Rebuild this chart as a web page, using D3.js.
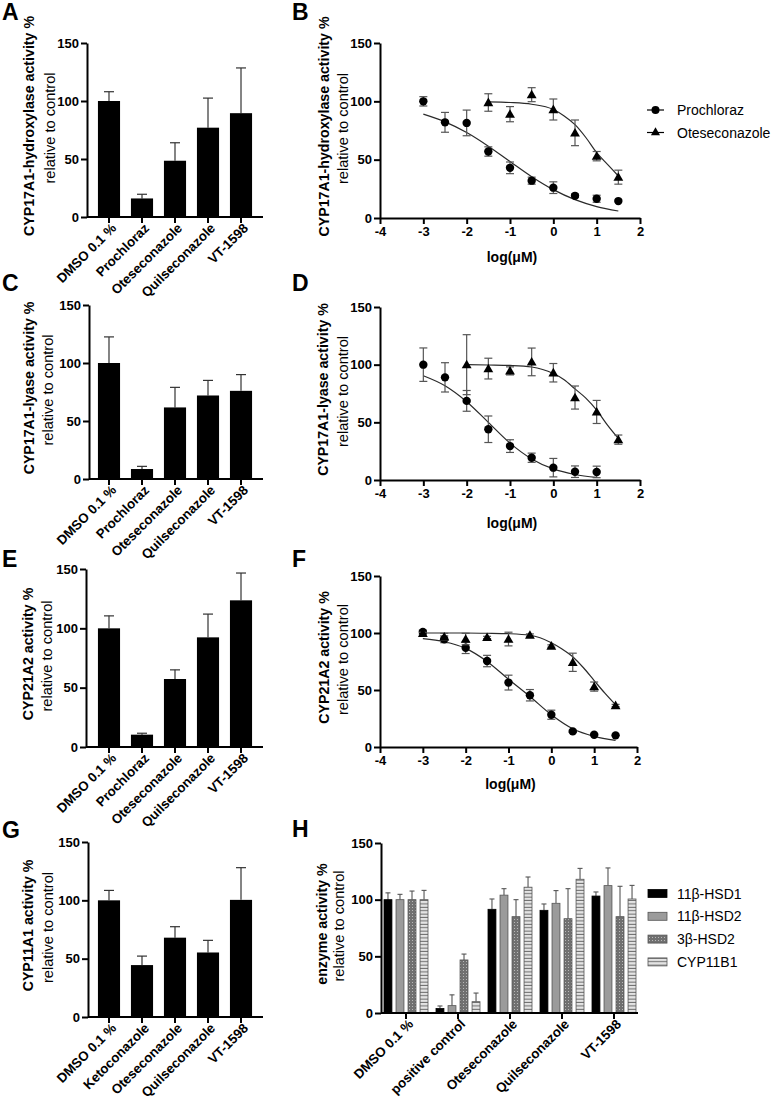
<!DOCTYPE html>
<html><head><meta charset="utf-8">
<script src="https://cdn.jsdelivr.net/npm/d3@7"></script>
<style>body{margin:0;background:#fff} svg{display:block} text{font-family:"Liberation Sans",Arial,sans-serif}</style>
</head><body><svg id="c" width="775" height="1105"></svg>
<script>
// ---------- data ----------
const barCats = ["DMSO 0.1 %","Prochloraz","Oteseconazole","Quilseconazole","VT-1598"];
const barCatsG = ["DMSO 0.1 %","Ketoconazole","Oteseconazole","Quilseconazole","VT-1598"];
const hydroxylaseMean = [100,16,48.5,77,89.5];
const hydroxylaseSD   = [8,3.6,15.5,25.5,39];
const lyaseMean = [100,8.6,61.7,72,76];
const lyaseSD   = [22.5,2.3,17.3,13,14];
const cyp21Mean = [100,10.4,57.3,92.4,123.6];
const cyp21SD   = [10.5,1.2,7.7,19.6,23];
const cyp11a1Mean = [100,44.5,68,55.3,100.4];
const cyp11a1SD   = [8.5,7.7,9.4,10.4,27.6];

const yTicks = [0,50,100,150];
const xTicks = [-4,-3,-2,-1,0,1,2];
const logDose = [-3,-2.5,-2,-1.5,-1,-0.5,0,0.5,1,1.5];

// B: hydroxylase dose response
const bProMean = [100,82,81.5,57,43,32,26,19,16.5,14.5];
const bProErr  = [4,8.5,11,4,5,3,5,1.5,3,0];
const bProFit  = [89,82.4,73.3,61.6,48.4,35.4,24.3,15.7,9.8,6];
const bOteDose = [-1.5,-1,-0.5,0,0.5,1,1.5];
const bOteMean = [99,89,105.7,93,73,53,35];
const bOteErr  = [7.5,6.5,6,9,11,4,6];
const bOteFitDose = [-1.5,-1,-0.5,0,0.25,0.5,0.75,1,1.25,1.5];
const bOteFit  = [99.5,99,97.5,93,87.5,80,69,56,46,36];

// D: lyase dose response
const dProDose = [-3,-2.5,-2,-1.5,-1,-0.5,0,0.5,1];
const dProMean = [100,89,68.6,44,29.4,19.3,10.7,7.2,7];
const dProErr  = [14.5,12.7,9,11.5,5.5,4,8,5,5];
const dProFit  = [90.4,81.7,67.9,50,32,18.3,9.6,4.8,2.3];
const dOteDose = [-2,-1.5,-1,-0.5,0,0.5,1,1.5];
const dOteMean = [100,96.6,94.6,102.4,93,71.5,59,35];
const dOteErr  = [26,9,3.5,12,8,10,10,4];
const dOteFitDose = [-2,-1.5,-1,-0.5,0,0.25,0.5,0.75,1,1.25,1.5];
const dOteFit  = [100,99.7,99.3,98,92.3,87,79,71,60.6,47.6,36];

// F: CYP21A2 dose response
const fProMean = [101,94.5,87,75.4,56.5,45.4,28.3,13.7,10.8,10.2];
const fProErr  = [1.5,3,5,5,6.5,5,4,1,0.5,0];
const fProFit  = [95,92.3,86.5,75,59.4,44.3,28.3,16,9.3,5.8];
const fOteMean = [99.6,96.7,94.7,96.1,94.7,98.2,88.6,74.3,53,36.4];
const fOteErr  = [1,3,5,1,6,1,1,8,4,1];
const fOteFitDose = [-3,-2.5,-2,-1.5,-1,-0.5,0,0.25,0.5,0.75,1,1.25,1.5];
const fOteFit  = [100,100,100,99.8,99.4,98,91.5,86,79.2,69.5,58.3,47.2,37];

// H: grouped bars
const hCats = ["DMSO 0.1 %","positive control","Oteseconazole","Quilseconazole","VT-1598"];
const hSeries = ["11β-HSD1","11β-HSD2","3β-HSD2","CYP11B1"];
const hsd1Mean = [100,4,91.5,90.6,103.2];
const hsd1Err  = [6,2.2,9.1,5.6,3.6];
const hsd2Mean = [100,6.5,104,96.8,112.4];
const hsd2Err  = [4.7,9.5,5.7,11.2,15.6];
const b3Mean   = [100,46.8,85,83.2,85];
const b3Err    = [7.6,5.2,15,26.5,26.8];
const cypMean  = [100,10,111,118,100.6];
const cypErr   = [8.2,7.6,9,9.6,12];

const legendNames = ["Prochloraz","Oteseconazole"];

// ---------- drawing ----------
const svg = d3.select("#c");
const defs = svg.append("defs");
const dots = defs.append("pattern").attr("id","dots").attr("width",3).attr("height",3).attr("patternUnits","userSpaceOnUse");
dots.append("rect").attr("width",3).attr("height",3).attr("fill","#707070");
dots.append("rect").attr("x",1).attr("y",1).attr("width",1).attr("height",1).attr("fill","#b8b8b8");
const stripes = defs.append("pattern").attr("id","stripes").attr("width",6).attr("height",3.4).attr("patternUnits","userSpaceOnUse");
stripes.append("rect").attr("width",6).attr("height",3.4).attr("fill","#e4e4e4");
stripes.append("rect").attr("y",2.4).attr("width",6).attr("height",1).attr("fill","#6a6a6a");

const seriesFill = ["#000","#9b9b9b","url(#dots)","url(#stripes)"];
const seriesStroke = ["#000","#555","#555","#555"];

function styleAxis(g){
  g.selectAll("path.domain").attr("stroke","#000").attr("stroke-width",2);
  g.selectAll(".tick line").attr("stroke","#000").attr("stroke-width",2);
  g.selectAll(".tick text").attr("font-family","Liberation Sans, Arial, sans-serif")
   .attr("font-size",13).attr("font-weight","bold").attr("fill","#000");
}
function letter(t,x,y){
  svg.append("text").attr("x",x).attr("y",y).attr("font-size",23).attr("font-weight","bold").text(t);
}
function yTitle(l1,l2,x1,x2,cy){
  svg.append("text").attr("transform",`translate(${x1},${cy-4}) rotate(-90)`)
    .attr("text-anchor","middle").attr("dominant-baseline","central")
    .attr("font-size",14.2).attr("font-weight","bold").text(l1);
  svg.append("text").attr("transform",`translate(${x2},${cy-2}) rotate(-90)`)
    .attr("text-anchor","middle").attr("dominant-baseline","central")
    .attr("font-size",14.6).text(l2);
}
function yAxis(y,axisX){
  const g = svg.append("g").attr("transform",`translate(${axisX},0)`)
    .call(d3.axisLeft(y).tickValues(yTicks).tickSize(6).tickSizeOuter(0).tickPadding(2));
  styleAxis(g);
}
function catLabels(x,cats,bottom){
  cats.forEach(c=>{
    svg.append("text").attr("transform",`translate(${x(c)+8},${bottom+12}) rotate(-45)`)
      .attr("text-anchor","end").attr("font-size",13.3).attr("font-weight","bold").text(c);
  });
}

function barPanel(o){
  const y = d3.scaleLinear().domain([0,150]).range([o.bottom,o.top]);
  const x = d3.scaleBand().domain(o.cats).range([92,258]).paddingInner(0.33).paddingOuter(0.18);
  const g = svg.append("g");
  o.cats.forEach((c,i)=>{
    const cx = x(c)+x.bandwidth()/2;
    g.append("line").attr("x1",cx).attr("x2",cx).attr("y1",y(o.mean[i])).attr("y2",y(o.mean[i]+o.sd[i]))
      .attr("stroke","#333").attr("stroke-width",1.2);
    g.append("line").attr("x1",cx-5).attr("x2",cx+5).attr("y1",y(o.mean[i]+o.sd[i])).attr("y2",y(o.mean[i]+o.sd[i]))
      .attr("stroke","#333").attr("stroke-width",1.2);
  });
  g.selectAll("rect").data(o.mean).join("rect")
    .attr("x",(d,i)=>x(o.cats[i])).attr("width",x.bandwidth())
    .attr("y",d=>y(d)).attr("height",d=>y(0)-y(d)).attr("fill","#000");
  yAxis(y,o.axisX);
  const xa = svg.append("g").attr("transform",`translate(0,${o.bottom})`)
    .call(d3.axisBottom(x).tickSize(6).tickSizeOuter(0).tickFormat(""));
  xa.select("path.domain").remove();
  styleAxis(xa);
  svg.append("line").attr("x1",o.axisX).attr("x2",263).attr("y1",o.bottom).attr("y2",o.bottom)
    .attr("stroke","#000").attr("stroke-width",2);
  catLabels(c=>x(c)+x.bandwidth()/2,o.cats,o.bottom);
  yTitle(o.t1,o.t2,o.t1x,o.t2x,(o.top+o.bottom)/2);
  letter(o.letter,2,o.ly);
}

function dosePanel(o){
  const x = d3.scaleLinear().domain([-4,2]).range([o.x0,o.x1]);
  const y = d3.scaleLinear().domain([0,150]).range([o.bottom,o.top]);
  const g = svg.append("g");
  o.series.forEach(s=>{
    const line = d3.line().x((d,i)=>x(s.fitDose[i])).y(d=>y(d)).curve(d3.curveMonotoneX);
    g.append("path").attr("d",line(s.fit)).attr("fill","none").attr("stroke","#2a2a2a").attr("stroke-width",1.2);
    s.mean.forEach((m,i)=>{
      if(s.err[i]<=0) return;
      const cx = x(s.dose[i]);
      const y1 = y(m-s.err[i]), y2 = y(m+s.err[i]);
      g.append("line").attr("x1",cx).attr("x2",cx).attr("y1",y1).attr("y2",y2).attr("stroke","#555").attr("stroke-width",1.2);
      [y1,y2].forEach(yy=>g.append("line").attr("x1",cx-4).attr("x2",cx+4).attr("y1",yy).attr("y2",yy).attr("stroke","#555").attr("stroke-width",1.2));
    });
    s.mean.forEach((m,i)=>{
      if(s.shape==="circle"){
        g.append("circle").attr("cx",x(s.dose[i])).attr("cy",y(m)).attr("r",4.2).attr("fill","#000");
      } else {
        g.append("path").attr("d",d3.symbol(d3.symbolTriangle,42)())
          .attr("transform",`translate(${x(s.dose[i])},${y(m)+0.8})`).attr("fill","#000");
      }
    });
  });
  yAxis(y,o.x0);
  const xa = svg.append("g").attr("transform",`translate(0,${o.bottom})`)
    .call(d3.axisBottom(x).tickValues(xTicks).tickFormat(d=>String(d)).tickSize(6).tickSizeOuter(0).tickPadding(3));
  styleAxis(xa);
  svg.append("text").attr("x",(o.x0+o.x1)/2+2).attr("y",o.xty).attr("text-anchor","middle")
    .attr("font-size",14).attr("font-weight","bold").text("log(μM)");
  yTitle(o.t1,o.t2,o.t1x,o.t2x,(o.top+o.bottom)/2);
  letter(o.letter,292,o.ly);
}

// A, C, E, G
barPanel({letter:"A",ly:20,axisX:87,top:43,bottom:217,cats:barCats,mean:hydroxylaseMean,sd:hydroxylaseSD,
  t1:"CYP17A1-hydroxylase activity %",t2:"relative to control",t1x:29,t2x:50});
barPanel({letter:"C",ly:291,axisX:89,top:305,bottom:479,cats:barCats,mean:lyaseMean,sd:lyaseSD,
  t1:"CYP17A1-lyase activity %",t2:"relative to control",t1x:29,t2x:48});
barPanel({letter:"E",ly:567,axisX:86,top:569,bottom:747,cats:barCats,mean:cyp21Mean,sd:cyp21SD,
  t1:"CYP21A2 activity %",t2:"relative to control",t1x:28,t2x:47});
barPanel({letter:"G",ly:838,axisX:88,top:842,bottom:1017,cats:barCatsG,mean:cyp11a1Mean,sd:cyp11a1SD,
  t1:"CYP11A1 activity %",t2:"relative to control",t1x:28,t2x:48});

// B, D, F
dosePanel({letter:"B",ly:20,x0:380,x1:640,top:43,bottom:218,xty:262,
  t1:"CYP17A1-hydroxylase activity %",t2:"relative to control",t1x:324,t2x:343,
  series:[{shape:"circle",dose:logDose,mean:bProMean,err:bProErr,fitDose:logDose,fit:bProFit},
          {shape:"tri",dose:bOteDose,mean:bOteMean,err:bOteErr,fitDose:bOteFitDose,fit:bOteFit}]});
dosePanel({letter:"D",ly:291,x0:380,x1:640,top:307,bottom:480,xty:528,
  t1:"CYP17A1-lyase activity %",t2:"relative to control",t1x:323,t2x:343,
  series:[{shape:"circle",dose:dProDose,mean:dProMean,err:dProErr,fitDose:dProDose,fit:dProFit},
          {shape:"tri",dose:dOteDose,mean:dOteMean,err:dOteErr,fitDose:dOteFitDose,fit:dOteFit}]});
dosePanel({letter:"F",ly:567,x0:380,x1:637,top:576,bottom:747,xty:789,
  t1:"CYP21A2 activity %",t2:"relative to control",t1x:324,t2x:343,
  series:[{shape:"circle",dose:logDose,mean:fProMean,err:fProErr,fitDose:logDose,fit:fProFit},
          {shape:"tri",dose:logDose,mean:fOteMean,err:fOteErr,fitDose:fOteFitDose,fit:fOteFit}]});

// legend B
legendNames.forEach((n,i)=>{
  const ly = 110 + i*22.5;
  svg.append("line").attr("x1",647).attr("x2",664).attr("y1",ly).attr("y2",ly).attr("stroke","#000").attr("stroke-width",1.2);
  if(i===0) svg.append("circle").attr("cx",655.5).attr("cy",ly).attr("r",4).attr("fill","#000");
  else svg.append("path").attr("d",d3.symbol(d3.symbolTriangle,36)()).attr("transform",`translate(655.5,${ly})`).attr("fill","#000");
  svg.append("text").attr("x",677).attr("y",ly).attr("dominant-baseline","central").attr("font-size",14).text(n);
});

// H
(function(){
  const top=843,bottom=1013,axisX=381;
  const y = d3.scaleLinear().domain([0,150]).range([bottom,top]);
  const x0 = d3.scaleBand().domain(hCats).range([380,640]);
  const x1 = d3.scaleBand().domain(hSeries).range([-22,22]).paddingInner(0.34);
  const means=[hsd1Mean,hsd2Mean,b3Mean,cypMean], errs=[hsd1Err,hsd2Err,b3Err,cypErr];
  const g = svg.append("g");
  hCats.forEach((c,ci)=>{
    const gc = x0(c)+x0.bandwidth()/2;
    hSeries.forEach((s,si)=>{
      const bx = gc + x1(s), m = means[si][ci], e = errs[si][ci];
      const cx = bx + x1.bandwidth()/2;
      g.append("line").attr("x1",cx).attr("x2",cx).attr("y1",y(m)).attr("y2",y(m+e)).attr("stroke","#555").attr("stroke-width",1.1);
      g.append("line").attr("x1",cx-2.5).attr("x2",cx+2.5).attr("y1",y(m+e)).attr("y2",y(m+e)).attr("stroke","#555").attr("stroke-width",1.1);
      g.append("rect").attr("x",bx).attr("width",x1.bandwidth()).attr("y",y(m)).attr("height",y(0)-y(m))
        .attr("fill",seriesFill[si]).attr("stroke",seriesStroke[si]).attr("stroke-width",0.8);
    });
  });
  yAxis(y,axisX);
  const xa = svg.append("g").attr("transform",`translate(0,${bottom})`)
    .call(d3.axisBottom(x0).tickSize(6).tickSizeOuter(0).tickFormat(""));
  xa.select("path.domain").remove();
  styleAxis(xa);
  svg.append("line").attr("x1",axisX).attr("x2",638).attr("y1",bottom).attr("y2",bottom).attr("stroke","#000").attr("stroke-width",2);
  catLabels(c=>x0(c)+x0.bandwidth()/2,hCats,bottom);
  yTitle("enzyme activity %","relative to control",322,339,(top+bottom)/2);
  letter("H",292,837);
  hSeries.forEach((s,i)=>{
    const ly = 893.5 + i*22.8;
    svg.append("rect").attr("x",648).attr("y",ly-4).attr("width",19).attr("height",8)
      .attr("fill",seriesFill[i]).attr("stroke",seriesStroke[i]).attr("stroke-width",0.8);
    svg.append("text").attr("x",677).attr("y",ly).attr("dominant-baseline","central").attr("font-size",14).text(s);
  });
})();
</script></body></html>
